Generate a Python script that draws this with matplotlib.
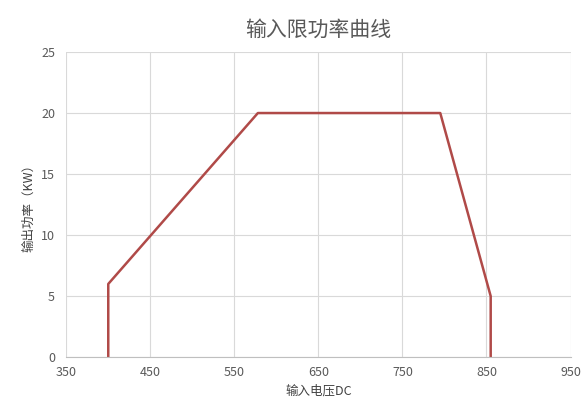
import matplotlib.pyplot as plt

plt.rcParams['font.family'] = ['Noto Sans CJK SC', 'DejaVu Sans']

voltage = [400, 400, 578, 795, 855, 855]
power = [0, 6, 20, 20, 5, 0]
x_ticks = [350, 450, 550, 650, 750, 850, 950]
y_ticks = [0, 5, 10, 15, 20, 25]

fig = plt.figure(figsize=(5.81, 4.0), dpi=100)
ax = fig.add_axes([0.114, 0.107, 0.868, 0.763])
ax.plot(voltage, power, color='#B04A48', linewidth=1.8)
ax.set_xlim(350, 950)
ax.set_ylim(0, 25)
ax.set_xticks(x_ticks)
ax.set_yticks(y_ticks)
ax.grid(True, color='#D9D9D9', linewidth=0.8)
ax.set_axisbelow(True)
for s in ['top', 'right', 'left']:
    ax.spines[s].set_visible(False)
ax.spines['bottom'].set_color('#BFBFBF')
ax.tick_params(length=0, labelsize=9, colors='#595959')
ax.tick_params(axis='y', pad=8)
ax.tick_params(axis='x', pad=6)
ax.set_title('输入限功率曲线', fontsize=15, color='#595959', pad=12)
ax.set_xlabel('输入电压DC', fontsize=9, color='#404040', labelpad=4)
ax.set_ylabel('输出功率（KW）', fontsize=9, color='#404040')
fig.savefig('out.png')
